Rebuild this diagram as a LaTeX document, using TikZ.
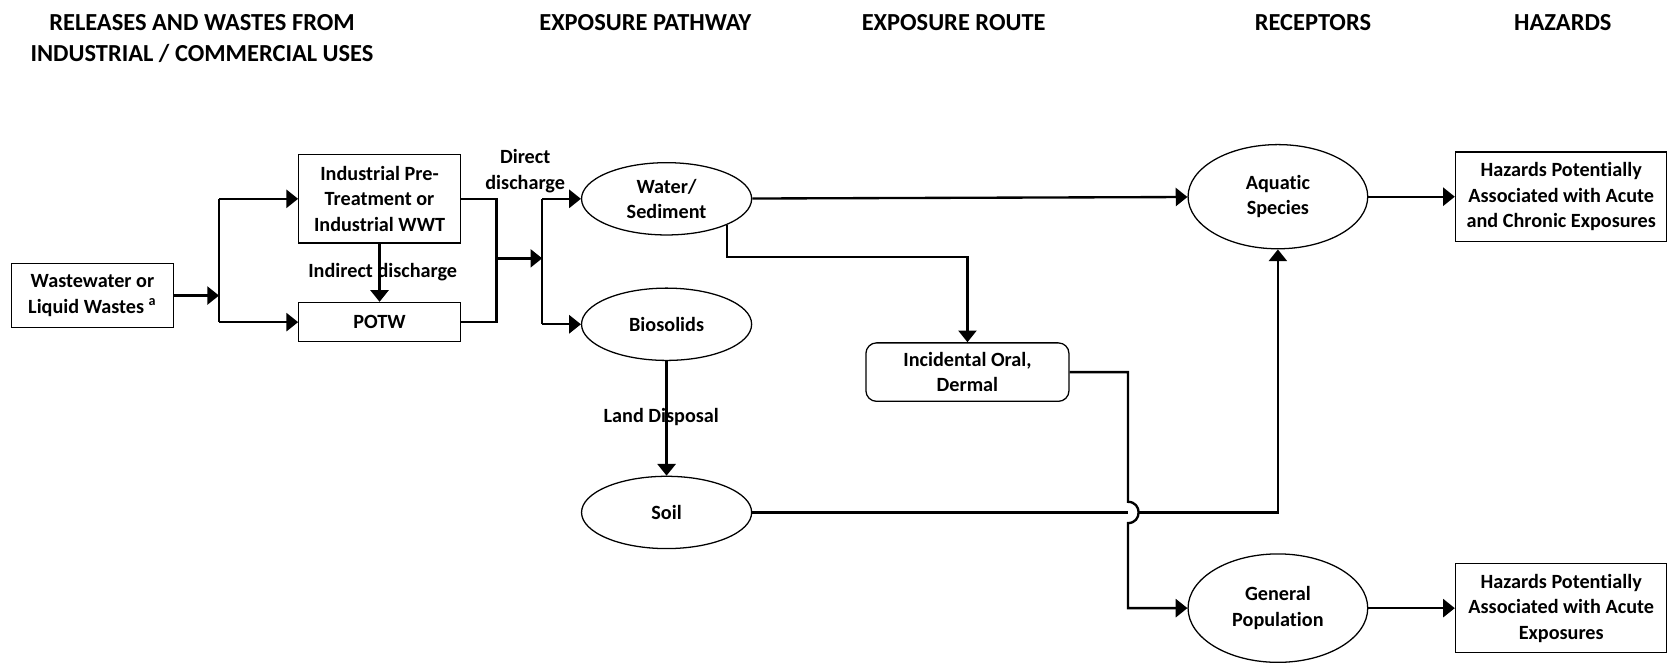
\documentclass[tikz,border=0pt]{standalone}
\usepackage{fontspec}
\setmainfont[Ligatures=NoCommon]{Carlito}
\usetikzlibrary{shapes.geometric,arrows.meta,calc}
\begin{document}
\begin{tikzpicture}[x=0.5pt,y=-0.5pt,
        font=\fontsize{9.5}{12}\selectfont\bfseries,
        hdr/.style={font=\fontsize{11.5}{14.5}\selectfont\bfseries, align=center},
        box/.style={draw, line width=0.6pt, align=center, inner sep=0pt},
        oval/.style={ellipse, draw, line width=0.6pt, align=center, inner sep=0pt,
            minimum width=80pt, minimum height=34pt},
        lbl/.style={align=center, inner sep=0pt},
        wire/.style={line width=1.1pt},
        flow/.style={line width=1.1pt, -{Triangle[length=5.5pt,width=8.5pt]}}]
    \useasboundingbox (0,0) rectangle (1568,623);

    % column headings
    \node [hdr] (hrel) at (190,36) {RELEASES AND WASTES FROM\\INDUSTRIAL / COMMERCIAL USES};
    \node [hdr] (hpath) at (607,21) {EXPOSURE PATHWAY};
    \node [hdr] (hroute) at (897,21) {EXPOSURE ROUTE};
    \node [hdr] (hrec) at (1235,21) {RECEPTORS};
    \node [hdr] (hhaz) at (1470,21) {HAZARDS};

    % releases
    \node [box, minimum width=76.5pt, minimum height=30pt] (ww) at (87,278) {Wastewater or\\Liquid Wastes \textsuperscript{a}};
    \node [box, minimum width=76pt, minimum height=41.5pt] (ind) at (357,187) {Industrial Pre-\\Treatment or\\Industrial WWT};
    \node [box, minimum width=76pt, minimum height=18.5pt] (potw) at (357,303) {POTW};

    % pathways
    \node [oval] (water) at (627,187) {Water/\\Sediment};
    \node [oval] (bio) at (627,305) {Biosolids};
    \node [oval] (soil) at (627,482) {Soil};

    % route
    \node [box, rounded corners=5pt, minimum width=95.5pt, minimum height=27.5pt] (oral) at (910,350) {Incidental Oral,\\Dermal};

    % receptors
    \node [oval, minimum width=84.5pt, minimum height=49pt] (aqua) at (1202,185) {Aquatic\\Species};
    \node [oval, minimum width=84.5pt, minimum height=51pt] (genpop) at (1202,572) {General\\Population};

    % hazards
    \node [box, minimum width=99.5pt, minimum height=42pt] (hazA) at (1468.5,185) {Hazards Potentially\\Associated with Acute\\and Chronic Exposures};
    \node [box, minimum width=99.5pt, minimum height=42pt] (hazB) at (1468.5,572) {Hazards Potentially\\Associated with Acute\\Exposures};

    % junctions
    \coordinate (j1) at (206,278);
    \coordinate (j2) at (467,243);
    \coordinate (j3) at (510,243);
    \coordinate (k1) at (910,242);
    \coordinate (hop) at (1061,482);

    \draw [flow] (ww) -- (j1);
    \draw [wire] (j1 |- ind) -- (j1 |- potw);
    \draw [flow] (j1 |- ind) -- (ind);
    \draw [flow] (j1 |- potw) -- (potw);
    \draw [flow] (ind) -- (potw);
    \node [lbl] (lind) at (360,256) {Indirect discharge};

    \draw [wire] (ind.east) -| (j2) |- (potw.east);
    \draw [flow] (j2) -- (j3);
    \draw [wire] (j3 |- water) -- (j3 |- bio);
    \draw [flow] (j3 |- water) -- (water);
    \draw [flow] (j3 |- bio) -- (bio);
    \node [lbl] (ldir) at (494,161) {Direct\\discharge};

    \draw [flow] (water) -- (aqua);
    \draw [flow] (water.south east) |- (k1) -- (oral);
    \draw [flow] (bio) -- (soil);
    \node [lbl] (lland) at (622,392) {Land Disposal};

    \draw [flow] (soil) -| (aqua);
    % line hop over the soil line
    \fill [white] ($(hop)+(0,-10)$) .. controls ($(hop)+(13.3,-10)$) and ($(hop)+(13.3,10)$) .. ($(hop)+(0,10)$) -- cycle;
    \draw [flow] (oral.east) -| ($(hop)+(0,-10)$)
        .. controls ($(hop)+(13.3,-10)$) and ($(hop)+(13.3,10)$) .. ($(hop)+(0,10)$)
        -- (hop |- genpop) -- (genpop);

    \draw [flow] (aqua) -- (hazA);
    \draw [flow] (genpop) -- (hazB);
\end{tikzpicture}
\end{document}
